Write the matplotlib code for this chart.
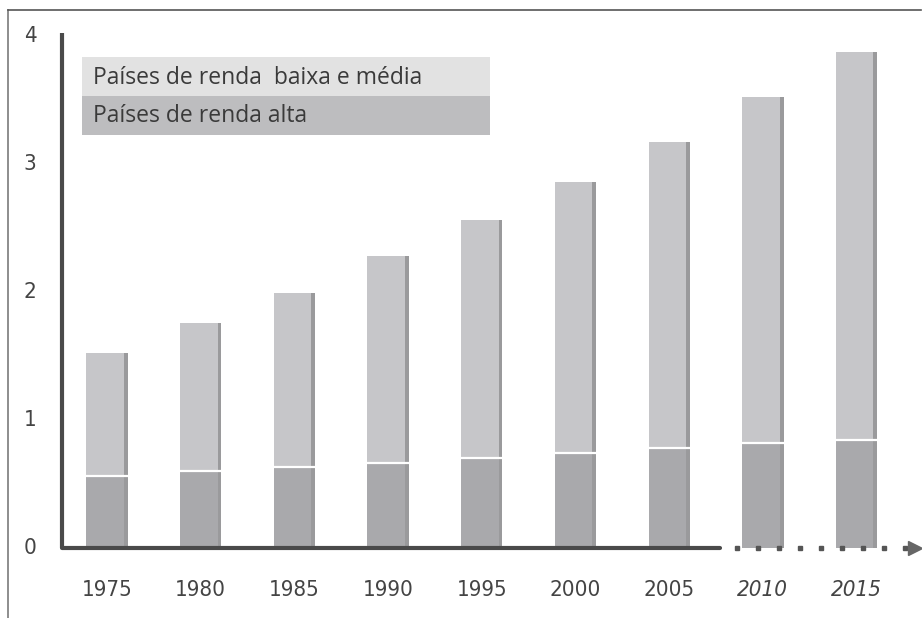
import matplotlib
matplotlib.use("Agg")
import matplotlib.pyplot as plt
from matplotlib.lines import Line2D
from matplotlib.patches import Rectangle
from matplotlib import font_manager
import numpy as np

# ---------------------------------------------------------------------------
# Data
# ---------------------------------------------------------------------------
years = ["1975", "1980", "1985", "1990", "1995", "2000", "2005", "2010", "2015"]
projected = [False, False, False, False, False, False, False, True, True]
total = [1.52, 1.76, 1.99, 2.28, 2.56, 2.86, 3.17, 3.52, 3.87]
high_income = [0.56, 0.60, 0.63, 0.66, 0.70, 0.74, 0.78, 0.82, 0.84]
low_mid_income = [t - h for t, h in zip(total, high_income)]

legend_labels = ["Países de renda  baixa e média", "Países de renda alta"]
yticks = [0, 1, 2, 3, 4]

# ---------------------------------------------------------------------------
# Style
# ---------------------------------------------------------------------------
COLOR_LOW = "#c6c6c9"
COLOR_HIGH = "#a9a9ac"
COLOR_SHADE = "#9a9a9c"
COLOR_AXIS = "#4a4a4a"
COLOR_TEXT = "#444444"
LEG_LIGHT = "#e2e2e2"
LEG_DARK = "#bdbdbf"
BAR_W = 0.44

# pick a narrow face for the tick labels if one is installed
names = {f.name for f in font_manager.fontManager.ttflist}
if "Liberation Sans Narrow" in names:
    TICK_FONT = dict(family="Liberation Sans Narrow", fontsize=17)
else:
    TICK_FONT = dict(family="DejaVu Sans", fontstretch="condensed", fontsize=16)

W, H = 922, 618
fig = plt.figure(figsize=(W / 100, H / 100), dpi=100)

# axes frame placed in pixel terms: y-axis at x=62, zero line at y=548
ax_left, ax_right = 62, 920
ax_bottom, ax_top = 548, 33
ax = fig.add_axes([ax_left / W, 1 - ax_bottom / H,
                   (ax_right - ax_left) / W, (ax_bottom - ax_top) / H])
ax.set_facecolor("none")
ax.set_ylim(0, 4.02)
step_px = 93.7
x0 = -(107 - ax_left) / step_px
ax.set_xlim(x0, x0 + (ax_right - ax_left) / step_px)
for s in ax.spines.values():
    s.set_visible(False)
ax.set_xticks([])
ax.set_yticks([])

x = np.arange(len(years))

# bars
ax.bar(x, high_income, width=BAR_W, color=COLOR_HIGH, zorder=2)
ax.bar(x, low_mid_income, width=BAR_W, bottom=high_income,
       color=COLOR_LOW, zorder=2)
# darker shaded strip on the right side of each bar
ax.bar(x + BAR_W / 2 - 0.02, total, width=0.04, color=COLOR_SHADE, zorder=3)
# white separator between the two parts
ax.hlines(high_income, x - BAR_W / 2, x + BAR_W / 2, color="white",
          lw=1.6, zorder=4)

# axes lines
ax.plot([x0, x0], [0, 4.02], color=COLOR_AXIS, lw=3, solid_capstyle="butt",
        zorder=5, clip_on=False)
x_solid_end = 6.54
ax.plot([x0, x_solid_end], [0, 0], color=COLOR_AXIS, lw=3,
        solid_capstyle="round", zorder=5, clip_on=False)
# dotted continuation for the projected years
ax.plot(np.linspace(6.72, 8.52, 9), np.zeros(9), ls="none", marker="s",
        markersize=3, color="#555555", zorder=5, clip_on=False)
ax.plot([8.62], [0], marker=">", markersize=10, color="#666666",
        zorder=5, clip_on=False)

# tick labels
for v in yticks:
    ax.text(x0 - 0.34, v, str(v), ha="center", va="center",
            color=COLOR_TEXT, **TICK_FONT)
for xi, lab, proj in zip(x, years, projected):
    ax.text(xi, -0.33, lab, ha="center", va="center",
            color=COLOR_TEXT, style="italic" if proj else "normal",
            **TICK_FONT)

# legend made of two stacked grey bands
leg_x, leg_y, leg_w, leg_h = 82, 57, 408, 39
for i, (lab, col) in enumerate(zip(legend_labels, [LEG_LIGHT, LEG_DARK])):
    top = leg_y + i * leg_h
    fig.patches.append(Rectangle((leg_x / W, 1 - (top + leg_h) / H),
                                 leg_w / W, leg_h / H,
                                 transform=fig.transFigure,
                                 facecolor=col, edgecolor="none", zorder=1))
    fig.text((leg_x + 11) / W, 1 - (top + leg_h / 2 + 1) / H, lab,
             ha="left", va="center", fontsize=16.5, color="#3a3a3a",
             family="Open Sans")

# thin frame around the picture (top and left)
fig.add_artist(Line2D([8 / W, 8 / W], [0, 1 - 10 / H],
                      color="#7a7a7a", lw=1.2, transform=fig.transFigure))
fig.add_artist(Line2D([8 / W, 921 / W], [1 - 10 / H, 1 - 10 / H],
                      color="#555555", lw=1.2, transform=fig.transFigure))

fig.savefig("out.png", dpi=100, facecolor="white")
